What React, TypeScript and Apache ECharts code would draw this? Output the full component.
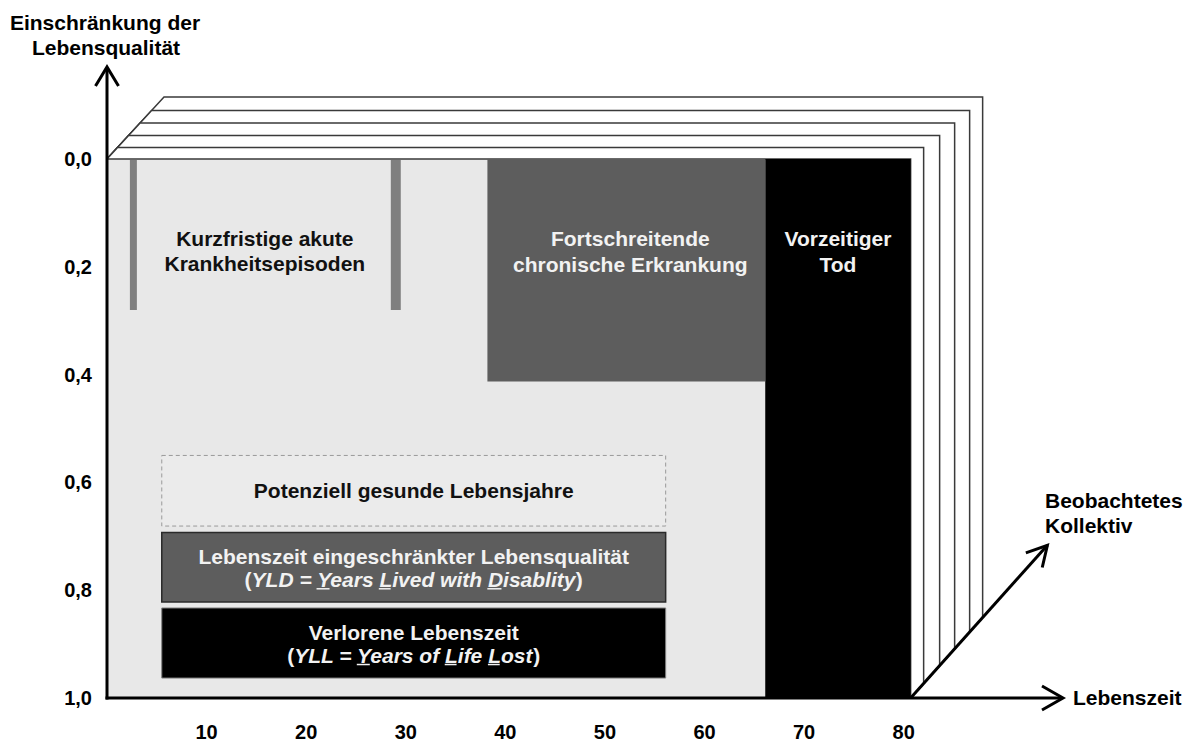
import React, { useEffect, useRef } from "react";
import * as echarts from "echarts";

// ---------------- data ----------------
const xTickValues = [10, 20, 30, 40, 50, 60, 70, 80];
const xAxisMax = 96;
const yAxisMin = 0;
const yAxisMax = 1;
const yAxisStep = 0.2;
const lifeSpanEnd = 80.7; // end of the observed life span
const prematureDeathAge = 66.1; // start of the lost years
const acuteEpisodeStart = [2.3, 28.5];
const acuteEpisodeEnd = [3.0, 29.5];
const acuteEpisodeSeverity = [0.28, 0.28];
const chronicStart = [38.2];
const chronicEnd = [66.1];
const chronicSeverity = [0.413];
const observedCohorts = [5, 4, 3, 2, 1]; // layers behind the front, back to front

// ---------------- texts ----------------
const yAxisTitle = ["Einschränkung der", "Lebensqualität"];
const depthAxisTitle = ["Beobachtetes", "Kollektiv"];
const xAxisTitle = "Lebenszeit";
const acuteLabel = ["Kurzfristige akute", "Krankheitsepisoden"];
const chronicLabel = ["Fortschreitende", "chronische Erkrankung"];
const deathLabel = ["Vorzeitiger", "Tod"];
const legendTitles = [
  "Potenziell gesunde Lebensjahre",
  "Lebenszeit eingeschränkter Lebensqualität",
  "Verlorene Lebenszeit",
];
const legendSubtitles = ["", "YLD = _Years _Lived with _Disablity", "YLL = _Years of _Life _Lost"];

// ---------------- layout / style ----------------
const FONT = '"Liberation Sans", Arial, sans-serif';
const FS = 21;
const legendBoxX = [5.5, 56.1];
const legendBoxY = [
  [0.55, 0.681],
  [0.693, 0.822],
  [0.833, 0.963],
];
const frameDx = [13, 29, 44, 59, 72];
const frameDy = [11.5, 23.5, 36, 48.5, 62];
const leftSlope = 57 / 62;
const depthDir = [137, -153];

const measureCtx: any =
  typeof document !== "undefined" ? document.createElement("canvas").getContext("2d") : null;
function tw(s: string, font: string) {
  if (!measureCtx) return s.length * 10;
  measureCtx.font = font;
  return measureCtx.measureText(s).width;
}

function textEl(text: string, x: number, y: number, fill: string, opts: any = {}) {
  return {
    type: "text",
    style: {
      text,
      x,
      y,
      fill,
      font: opts.font || `bold ${FS}px ${FONT}`,
      align: opts.align || "center",
      verticalAlign: "middle",
    },
  };
}

function subtitleEls(cx: number, cy: number, marked: string, fill: string) {
  const fUp = `bold ${FS}px ${FONT}`;
  const fIt = `italic bold ${FS}px ${FONT}`;
  let plain = "";
  const under: number[] = [];
  for (let i = 0; i < marked.length; i++) {
    if (marked[i] === "_") {
      under.push(plain.length);
    } else plain += marked[i];
  }
  const wOpen = tw("(", fUp);
  const wBody = tw(plain, fIt);
  const wClose = tw(")", fUp);
  const left = cx - (wOpen + wBody + wClose) / 2;
  const els: any[] = [
    textEl("(", left, cy, fill, { font: fUp, align: "left" }),
    textEl(plain, left + wOpen, cy, fill, { font: fIt, align: "left" }),
    textEl(")", left + wOpen + wBody, cy, fill, { font: fUp, align: "left" }),
  ];
  under.forEach((k) => {
    const x0 = left + wOpen + tw(plain.slice(0, k), fIt) - 1;
    const x1 = x0 + tw(plain[k], fIt) - 1;
    els.push({
      type: "line",
      shape: { x1: x0, y1: cy + 9.5, x2: x1, y2: cy + 9.5 },
      style: { stroke: fill, lineWidth: 1.5 },
    });
  });
  return els;
}

function chevron(tip: number[], dir: number[], len: number, half: number) {
  const l = Math.hypot(dir[0], dir[1]);
  const u = [dir[0] / l, dir[1] / l];
  const n = [-u[1], u[0]];
  return {
    type: "polyline",
    shape: {
      points: [
        [tip[0] - u[0] * len + n[0] * half, tip[1] - u[1] * len + n[1] * half],
        tip,
        [tip[0] - u[0] * len - n[0] * half, tip[1] - u[1] * len - n[1] * half],
      ],
    },
    style: { stroke: "#000", lineWidth: 3, fill: null, lineJoin: "miter" },
  };
}

function rectFrom(api: any, x0: number, x1: number, y0: number, y1: number) {
  const a = api.coord([x0, y0]);
  const b = api.coord([x1, y1]);
  return { x: a[0], y: a[1], width: b[0] - a[0], height: b[1] - a[1] };
}

export default function App() {
  const ref = useRef<HTMLDivElement>(null);
  useEffect(() => {
    if (!ref.current) return;
    const chart = echarts.init(ref.current, null, { renderer: "svg" });

    const option: any = {
      animation: false,
      backgroundColor: "#ffffff",
      grid: { left: 107, top: 159, right: 131, bottom: 43, containLabel: false },
      xAxis: {
        type: "value",
        min: 0,
        max: xAxisMax,
        interval: 10,
        axisLine: { show: false },
        axisTick: { show: false },
        splitLine: { show: false },
        axisLabel: {
          margin: 24,
          color: "#000",
          fontSize: 20,
          fontWeight: "bold",
          fontFamily: FONT,
          showMaxLabel: false,
          formatter: (v: number) => (xTickValues.includes(v) ? String(v) : ""),
        },
      },
      yAxis: {
        type: "value",
        inverse: true,
        min: yAxisMin,
        max: yAxisMax,
        interval: yAxisStep,
        axisLine: { show: false },
        axisTick: { show: false },
        splitLine: { show: false },
        axisLabel: {
          margin: 15,
          color: "#000",
          fontSize: 20,
          fontWeight: "bold",
          fontFamily: FONT,
          formatter: (v: number) => v.toFixed(1).replace(".", ","),
        },
      },
      series: [
        // depth layers (observed cohort)
        {
          type: "custom",
          z: 1,
          clip: false,
          data: observedCohorts.map((c) => [c]),
          renderItem: (params: any, api: any) => {
            const c = api.value(0) - 1;
            const a = api.coord([0, yAxisMin]);
            const e = api.coord([lifeSpanEnd, yAxisMax]);
            const dx = frameDx[c];
            const dy = frameDy[c];
            const k = -depthDir[1] / depthDir[0];
            return {
              type: "polygon",
              shape: {
                points: [
                  a,
                  [a[0] + dy * leftSlope, a[1] - dy],
                  [e[0] + dx, a[1] - dy],
                  [e[0] + dx, e[1] - dx * k],
                  e,
                ],
              },
              style: { fill: "#ffffff", stroke: "#3a3a3a", lineWidth: 1.5 },
            };
          },
        },
        // front: life span background and premature death
        {
          type: "custom",
          z: 2,
          clip: false,
          data: [[0, lifeSpanEnd, prematureDeathAge]],
          renderItem: (params: any, api: any) => {
            const bg = rectFrom(api, api.value(0), api.value(1), yAxisMin, yAxisMax);
            const death = rectFrom(api, api.value(2), api.value(1), yAxisMin, yAxisMax);
            const cx = death.x + death.width / 2;
            return {
              type: "group",
              children: [
                { type: "rect", shape: bg, style: { fill: "#e8e8e8", stroke: "#3a3a3a", lineWidth: 1.5 } },
                { type: "rect", shape: death, style: { fill: "#000000" } },
                textEl(deathLabel[0], cx, 238, "#f2f2f2"),
                textEl(deathLabel[1], cx, 264, "#f2f2f2"),
              ],
            };
          },
        },
        // chronic disease
        {
          type: "custom",
          z: 3,
          clip: false,
          data: chronicStart.map((s, i) => [s, chronicEnd[i], chronicSeverity[i]]),
          renderItem: (params: any, api: any) => {
            const r = rectFrom(api, api.value(0), api.value(1), yAxisMin, api.value(2));
            const cx = r.x + r.width / 2 + 4;
            return {
              type: "group",
              children: [
                { type: "rect", shape: r, style: { fill: "#5d5d5d" } },
                textEl(chronicLabel[0], cx, 238, "#f2f2f2"),
                textEl(chronicLabel[1], cx, 264, "#f2f2f2"),
              ],
            };
          },
        },
        // acute episodes
        {
          type: "custom",
          z: 3,
          clip: false,
          data: acuteEpisodeStart.map((s, i) => [s, acuteEpisodeEnd[i], acuteEpisodeSeverity[i]]),
          renderItem: (params: any, api: any) => {
            const r = rectFrom(api, api.value(0), api.value(1), yAxisMin, api.value(2));
            r.y += 1;
            r.height -= 1;
            return { type: "rect", shape: r, style: { fill: "#7f7f7f" } };
          },
        },
        // acute label between the two episodes
        {
          type: "custom",
          z: 3,
          clip: false,
          data: [[acuteEpisodeEnd[0], acuteEpisodeStart[1]]],
          renderItem: (params: any, api: any) => {
            const a = api.coord([api.value(0), 0]);
            const b = api.coord([api.value(1), 0]);
            const cx = (a[0] + b[0]) / 2 + 1;
            return {
              type: "group",
              children: [textEl(acuteLabel[0], cx, 238, "#111"), textEl(acuteLabel[1], cx, 263, "#111")],
            };
          },
        },
        // legend boxes
        {
          type: "custom",
          z: 4,
          clip: false,
          data: legendTitles.map((t, i) => [i]),
          renderItem: (params: any, api: any) => {
            const i = api.value(0);
            const r = rectFrom(api, legendBoxX[0], legendBoxX[1], legendBoxY[i][0], legendBoxY[i][1]);
            const cx = r.x + r.width / 2;
            const cy = r.y + r.height / 2;
            const styles = [
              { fill: "#ebebeb", stroke: "#9a9a9a", lineWidth: 1, lineDash: [4, 3] },
              { fill: "#5d5d5d", stroke: "#2a2a2a", lineWidth: 1.5 },
              { fill: "#000000", stroke: "#808080", lineWidth: 1 },
            ];
            const fill = i === 0 ? "#111" : "#f2f2f2";
            const children: any[] = [{ type: "rect", shape: r, style: styles[i] }];
            if (legendSubtitles[i]) {
              children.push(textEl(legendTitles[i], cx, cy - 11, fill));
              children.push(...subtitleEls(cx, cy + 12, legendSubtitles[i], fill));
            } else {
              children.push(textEl(legendTitles[i], cx, cy, fill));
            }
            return { type: "group", children };
          },
        },
        // axes with arrows and titles
        {
          type: "custom",
          z: 5,
          clip: false,
          data: [[0]],
          renderItem: (params: any, api: any) => {
            const o = api.coord([0, yAxisMax]);
            const top = api.coord([0, yAxisMin]);
            const xEnd = api.coord([xAxisMax, yAxisMax]);
            const yTip = [o[0], top[1] - 92];
            const dStart = api.coord([lifeSpanEnd, yAxisMax]);
            const dl = Math.hypot(depthDir[0], depthDir[1]);
            const dTip = [dStart[0] + depthDir[0] * (205 / dl), dStart[1] + depthDir[1] * (205 / dl)];
            return {
              type: "group",
              children: [
                { type: "line", shape: { x1: o[0], y1: o[1] + 1.5, x2: yTip[0], y2: yTip[1] + 1 }, style: { stroke: "#000", lineWidth: 3 } },
                chevron(yTip, [0, -1], 19, 11.5),
                { type: "line", shape: { x1: o[0] - 1.5, y1: o[1], x2: xEnd[0] - 1, y2: xEnd[1] }, style: { stroke: "#000", lineWidth: 3 } },
                chevron(xEnd, [1, 0], 21, 12),
                { type: "line", shape: { x1: dStart[0], y1: dStart[1], x2: dTip[0], y2: dTip[1] }, style: { stroke: "#000", lineWidth: 3 } },
                chevron(dTip, depthDir, 20, 11),
                textEl(yAxisTitle[0], 105, 22, "#000", { font: `bold 21px ${FONT}` }),
                textEl(yAxisTitle[1], 106, 47, "#000", { font: `bold 21px ${FONT}` }),
                textEl(depthAxisTitle[0], 1045, 500, "#000", { align: "left" }),
                textEl(depthAxisTitle[1], 1045, 525, "#000", { align: "left" }),
                textEl(xAxisTitle, xEnd[0] + 10, xEnd[1] - 1, "#000", { align: "left" }),
              ],
            };
          },
        },
      ],
    };
    chart.setOption(option);
    return () => chart.dispose();
  }, []);
  return (
    <div
      ref={ref}
      style={{ position: "fixed", left: 0, top: 0, width: 1194, height: 742, background: "#fff" }}
    />
  );
}
